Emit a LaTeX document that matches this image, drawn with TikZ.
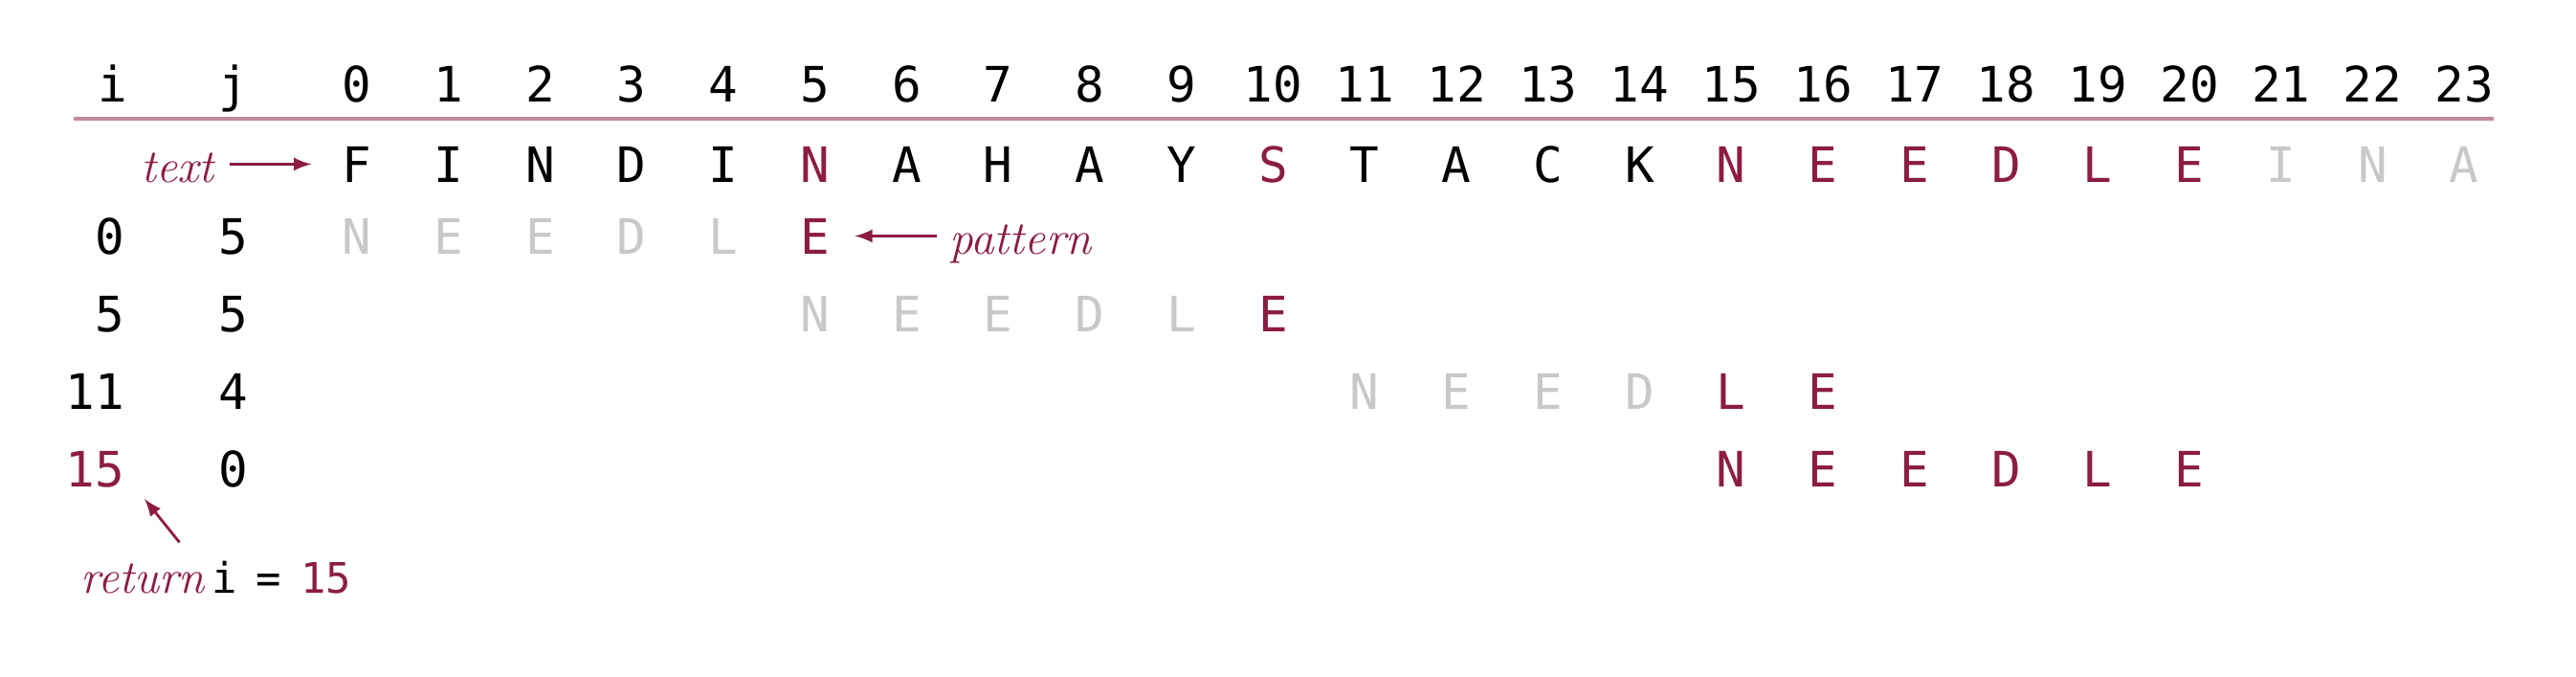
\documentclass[tikz,border=0pt]{standalone}
\usepackage{fontspec}
\newfontfamily\monofont{DejaVu Sans Mono}
\usepackage{xcolor}
\usetikzlibrary{arrows,positioning}
\definecolor{bookred}{RGB}{140,28,68}
\definecolor{rulered}{RGB}{192,136,156}
\definecolor{fadegray}{RGB}{200,200,200}

\begin{document}
\begin{tikzpicture}[
  chr/.style={anchor=base, inner sep=1pt, font=\monofont\fontsize{14.5}{17}\selectfont, text=black},
  chrhit/.style={chr, text=bookred},
  chrdim/.style={chr, text=fadegray},
  idx/.style={chr, anchor=base east},
  lbl/.style={inner sep=1pt, font=\fontsize{14}{17}\selectfont\itshape, text=bookred},
  arr/.style={-latex, draw=bookred, thick}
]
\useasboundingbox (0,0) rectangle (26.92,-7.06);

% Header row
\node[chr] (hi) at (1.18,-1.06) {i};
\node[chr] (hj) at (2.44,-1.06) {j};
\foreach \k in {0,...,23}
  \node[chr] (h\k) at ({3.73+0.9575*\k},-1.06) {\k};
\draw[rulered, line width=1.2pt] (0.77,-1.24) -- (26.06,-1.24);

% Text row
\foreach \c/\s [count=\k from 0] in {F/chr,I/chr,N/chr,D/chr,I/chr,N/chrhit,A/chr,H/chr,A/chr,Y/chr,S/chrhit,T/chr,A/chr,C/chr,K/chr,N/chrhit,E/chrhit,E/chrhit,D/chrhit,L/chrhit,E/chrhit,I/chrdim,N/chrdim,A/chrdim}
  \node[\s] (t\k) at ({3.73+0.9575*\k},-1.90) {\c};
\node[lbl, anchor=base east] (tlbl) at (2.28,-1.90) {text};
\draw[arr, shorten <=0.12cm, shorten >=0.28cm] (tlbl.east |- t0) -- (t0.west);

% Row 0: i=0, j=5
\node[idx] (i0) at (1.34,-2.65) {0};
\node[chr] (j0) at (2.44,-2.65) {5};
\foreach \c [count=\k from 0] in {N,E,E,D,L}
  \node[chrdim] (a\k) at ({3.73+0.9575*\k},-2.65) {\c};
\node[chrhit] (a5) at ({3.73+0.9575*5},-2.65) {E};
\node[lbl, anchor=base west] (plbl) at (9.88,-2.65) {pattern};
\draw[arr, shorten <=0.09cm, shorten >=0.22cm] (plbl.west |- a5) -- (a5.east);

% Row 1: i=5, j=5
\node[idx] (i1) at (1.34,-3.46) {5};
\node[chr] (j1) at (2.44,-3.46) {5};
\foreach \c [count=\k from 5] in {N,E,E,D,L}
  \node[chrdim] (b\k) at ({3.73+0.9575*\k},-3.46) {\c};
\node[chrhit] (b10) at ({3.73+0.9575*10},-3.46) {E};

% Row 2: i=11, j=4
\node[idx] (i2) at (1.34,-4.27) {11};
\node[chr] (j2) at (2.44,-4.27) {4};
\foreach \c [count=\k from 11] in {N,E,E,D}
  \node[chrdim] (c\k) at ({3.73+0.9575*\k},-4.27) {\c};
\foreach \c [count=\k from 15] in {L,E}
  \node[chrhit] (c\k) at ({3.73+0.9575*\k},-4.27) {\c};

% Row 3: i=15, j=0 (match)
\node[idx, text=bookred] (i3) at (1.34,-5.08) {15};
\node[chr] (j3) at (2.44,-5.08) {0};
\foreach \c [count=\k from 15] in {N,E,E,D,L,E}
  \node[chrhit] (d\k) at ({3.73+0.9575*\k},-5.08) {\c};

% Return label
\node[lbl, anchor=base west] (rlbl) at (0.80,-6.19)
  {return\,{\upshape\monofont\fontsize{12.5}{15}\selectfont\color{black}i\hspace{0.45em}=\hspace{0.45em}\color{bookred}15}};
\draw[arr] ([xshift=-0.38cm,yshift=0.15cm]rlbl.north) -- ([xshift=0.17cm,yshift=-0.08cm]i3.south east);

\end{tikzpicture}
\end{document}
